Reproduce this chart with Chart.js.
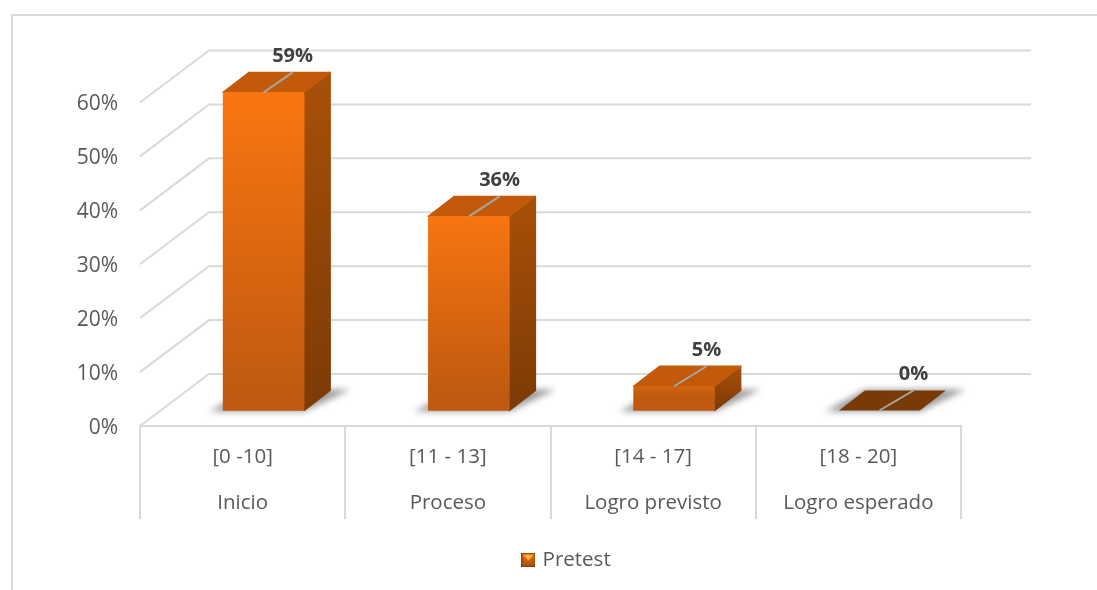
<!DOCTYPE html>
<html>
<head>
<meta charset="utf-8">
<title>Pretest</title>
<script src="https://cdn.jsdelivr.net/npm/chart.js@4"></script>
<style>
  html, body { margin: 0; padding: 0; background: #fff; overflow: hidden; }
  canvas { display: block; }
</style>
</head>
<body>
<canvas id="chart" width="1097" height="590"></canvas>
<script>
// Data
const ranges = ["[0 -10]", "[11 - 13]", "[14 - 17]", "[18 - 20]"];
const levels = ["Inicio", "Proceso", "Logro previsto", "Logro esperado"];
const values = [59, 36, 4.5, 0];
const seriesName = "Pretest";

const labels = ranges.map((r, i) => [r, levels[i]]);

// Fake 3D depth of the plot and of the bars
const wallX = 69, wallY = 52;
const liftX = 21, liftY = 15.5;
const depthX = 26, depthY = 20;
const gridColor = "#d9d9d9";
const fontName = "'Open Sans', sans-serif";

function poly(ctx, pts, fill, soft) {
  ctx.beginPath();
  pts.forEach((p, i) => i ? ctx.lineTo(p[0], p[1]) : ctx.moveTo(p[0], p[1]));
  ctx.closePath();
  ctx.fillStyle = fill;
  ctx.fill();
  if (soft) {
    // slightly rounded bevel on the corners
    ctx.strokeStyle = fill;
    ctx.lineWidth = 1.5;
    ctx.lineJoin = "round";
    ctx.stroke();
  }
}

function vGrad(ctx, y0, y1, c0, c1) {
  const g = ctx.createLinearGradient(0, y0, 0, y1);
  g.addColorStop(0, c0);
  g.addColorStop(1, c1);
  return g;
}

// Small legend marker
function legendIcon() {
  const c = document.createElement("canvas");
  c.width = c.height = 14;
  const x = c.getContext("2d");
  x.fillStyle = vGrad(x, 0, 14, "#e8700f", "#a84f0c");
  x.fillRect(0, 0, 14, 14);
  poly(x, [[2, 2], [12, 2], [7, 8]], "#ffb04d");
  x.strokeStyle = "#8a4208";
  x.strokeRect(0.5, 0.5, 13, 13);
  return c;
}

// Frame and back walls
const walls = {
  id: "walls",
  afterLayout(chart) {
    // legend sits centred under the whole page width, not the plot
    chart.legend.left += 87;
    chart.legend.right += 87;
    chart.legend.top += 4;
    chart.legend.bottom += 4;
  },
  beforeDraw(chart) {
    const ctx = chart.ctx;
    ctx.save();
    ctx.strokeStyle = gridColor;
    ctx.lineWidth = 2;
    ctx.beginPath();
    ctx.moveTo(12, 590);
    ctx.lineTo(12, 15);
    ctx.lineTo(1097, 15);
    ctx.stroke();
    ctx.restore();
  },
  beforeDatasetsDraw(chart) {
    const ctx = chart.ctx, y = chart.scales.y, a = chart.chartArea;
    ctx.save();
    ctx.strokeStyle = gridColor;
    ctx.lineWidth = 2;
    y.ticks.forEach(t => {
      const py = y.getPixelForValue(t.value);
      ctx.beginPath();
      ctx.moveTo(a.left, py);
      ctx.lineTo(a.left + wallX, py - wallY);
      ctx.lineTo(a.right + wallX + 1, py - wallY);
      ctx.stroke();
    });
    ctx.restore();
  }
};

// Side, top and floor shadow go under the bar that Chart.js draws
const bars3d = {
  id: "bars3d",
  beforeDatasetDraw(chart, args) {
    const ctx = chart.ctx;
    ctx.save();
    ctx.translate(liftX, -liftY);
    args.meta.data.forEach((bar, i) => {
      const l = bar.x - bar.width / 2, r = bar.x + bar.width / 2;
      const top = bar.y, base = bar.base;

      ctx.save();
      ctx.filter = "blur(3px)";
      poly(ctx, [[l - 14, base + 1], [r, base + 1], [r + depthX + 20, base - depthY - 1], [l + depthX, base - depthY - 1]], "rgba(90,90,90,0.6)");
      ctx.restore();

      if (values[i] > 0) {
        poly(ctx, [[r, top], [r + depthX, top - depthY], [r + depthX, base - depthY], [r, base]],
          vGrad(ctx, top - depthY, base, "#a85009", "#7c3a05"), true);
      }
      poly(ctx, [[l, top], [l + depthX, top - depthY], [r + depthX, top - depthY], [r, top]],
        values[i] > 0 ? "#c25a0a" : "#7a3a06", values[i] > 0);
    });
  },
  afterDatasetDraw(chart) {
    chart.ctx.restore();
  },
  afterDatasetsDraw(chart, args) {
    const ctx = chart.ctx;
    const meta = chart.getDatasetMeta(0);
    ctx.save();
    ctx.translate(liftX, -liftY);
    meta.data.forEach((bar, i) => {
      const endX = bar.x + 29 + i * 1.7, endY = bar.y - depthY;
      ctx.strokeStyle = "#a6a6a6";
      ctx.lineWidth = 2;
      ctx.beginPath();
      ctx.moveTo(bar.x, bar.y);
      ctx.lineTo(endX, endY);
      ctx.stroke();
      ctx.fillStyle = "#404040";
      ctx.font = "bold 20px " + fontName;
      ctx.textAlign = "center";
      ctx.textBaseline = "middle";
      ctx.fillText(Math.round(values[i]) + "%", endX, endY - 16);
    });
    ctx.restore();
  }
};

new Chart(document.getElementById("chart"), {
  type: "bar",
  data: {
    labels: labels,
    datasets: [{
      label: seriesName,
      data: values,
      clip: false,
      barThickness: 81,
      borderRadius: 3,
      backgroundColor: c => {
        const y = c.chart.scales.y;
        const y0 = y ? y.getPixelForValue(c.raw) : NaN, y1 = y ? y.getPixelForValue(0) : NaN;
        if (c.type !== "data" || !isFinite(y0) || !isFinite(y1)) return "#d9660e";
        return vGrad(c.chart.ctx, y0 - liftY, y1 - liftY, "#fd7710", "#bf5a10");
      }
    }]
  },
  plugins: [walls, bars3d],
  options: {
    responsive: false,
    animation: false,
    layout: { padding: { top: 102.5, right: 136, bottom: 14, left: 0 } },
    plugins: {
      tooltip: { enabled: false },
      legend: {
        position: "bottom",
        labels: {
          usePointStyle: true,
          pointStyle: legendIcon(),
          pointStyleWidth: 8,
          color: "#595959",
          font: { family: fontName, size: 20.5 }
        }
      }
    },
    scales: {
      x: {
        afterFit: s => { s.height = 109.5; },
        grid: { drawOnChartArea: false, offset: true, tickLength: 93, color: gridColor, lineWidth: 2 },
        border: { color: gridColor, width: 2 },
        ticks: {
          autoSkip: false,
          maxRotation: 0,
          padding: -85,
          color: "#595959",
          font: { family: fontName, size: 20.5, lineHeight: 2.25 }
        }
      },
      y: {
        min: 0,
        max: 60,
        afterFit: s => { s.width = 140; },
        grid: { display: false },
        border: { display: false },
        ticks: {
          stepSize: 10,
          padding: 14,
          labelOffset: 2,
          color: "#595959",
          font: { family: fontName, size: 21 },
          callback: v => v + "%"
        }
      }
    }
  }
});
</script>
</body>
</html>
